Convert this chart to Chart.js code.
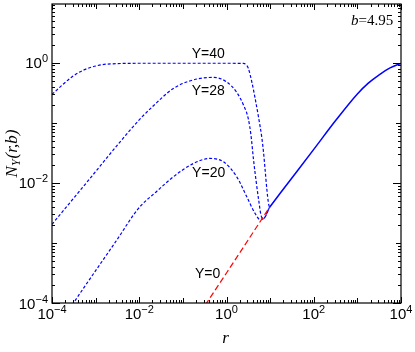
<!DOCTYPE html>
<html>
<head>
<meta charset="utf-8">
<title>N_Y(r,b)</title>
<script src="https://cdn.jsdelivr.net/npm/chart.js@4.4.0/dist/chart.umd.min.js"></script>
<style>
  body { margin: 0; background: #fff; }
  #wrap { width: 415px; height: 352px; }
</style>
</head>
<body>
<div id="wrap"><canvas id="myChart" width="415" height="352"></canvas></div>

<script type="text/javascript">
// values (b = 4.95)
var r40 = [1e-4, 2.9e-4, 5.8e-4, 1.4e-3, 2.5e-3, 1e-2, 1e-1, 1, 2.45, 2.8, 3.16, 3.8, 4.53, 5.4, 6.46, 7.08, 7.67, 8.4, 9.12, 9.64];
var n40 = [0.297, 0.585, 0.776, 0.927, 0.96, 0.98, 0.98, 0.98, 0.975, 0.93, 0.807, 0.482, 0.255, 0.126, 0.0562, 0.0316, 0.0166, 0.0079, 0.0047, 0.0039];

var r28 = [1e-4, 6.9e-4, 3.4e-3, 1e-2, 2e-2, 6.3e-2, 0.25, 0.5, 1.0, 1.74, 2.51, 3.16, 3.63, 4.17, 4.79, 5.5, 6.17, 6.9, 7.7, 8.6, 9.64];
var n28 = [2.04e-3, 0.0111, 0.0454, 0.112, 0.185, 0.38, 0.55, 0.569, 0.482, 0.316, 0.19, 0.117, 0.063, 0.024, 0.0105, 0.005, 0.0029, 0.00251, 0.00271, 0.00324, 0.00389];

var r20 = [2.5e-4, 3.1e-4, 3.04e-3, 9.5e-3, 0.025, 0.0605, 0.174, 0.42, 0.85, 1.72, 2.92, 4.53, 5.9, 7.67, 9.64];
var n20 = [7.9e-5, 1e-4, 1.11e-3, 3.72e-3, 7.2e-3, 0.0126, 0.021, 0.0255, 0.0224, 0.0126, 5.85e-3, 3.09e-3, 2.45e-3, 2.71e-3, 3.89e-3];

var r0 = [0.25, 1, 9.64];
var n0 = [6.9e-5, 3.16e-4, 3.89e-3];

// common large-r part (solid)
var rBig = [9.64, 17, 100, 324, 1000, 1780, 3160, 5620, 1e4];
var nBig = [3.89e-3, 6.7e-3, 0.0361, 0.111, 0.302, 0.457, 0.63, 0.822, 0.977];

// curve labels: text, r, N (baseline centre)
var labelText = ['Y=40', 'Y=28', 'Y=20', 'Y=0'];
var labelR = [0.38, 0.38, 0.39, 0.37];
var labelN = [1.2, 0.29, 0.01245, 2.58e-4];

var xDecades = [-4, -3, -2, -1, 0, 1, 2, 3, 4];
var xLabeled = [-4, -2, 0, 2, 4];
var yDecades = [-4, -3, -2, -1, 0];
var yLabeled = [-4, -2, 0];

function pts(rs, ns) {
    var out = [];
    for (var i = 0; i < rs.length; i++) out.push({x: rs[i], y: ns[i]});
    return out;
}

function drawPow(ctx, x, y, exp, align) {
    var base = '10', sup = exp < 0 ? '\u2212' + (-exp) : '' + exp;
    ctx.font = '15px "Liberation Sans", Arial, sans-serif';
    var wb = ctx.measureText(base).width;
    ctx.font = '11px "Liberation Sans", Arial, sans-serif';
    var ws = ctx.measureText(sup).width;
    var x0 = align === 'right' ? x - wb - ws : x - (wb + ws) / 2;
    ctx.textAlign = 'left';
    ctx.textBaseline = 'alphabetic';
    ctx.font = '15px "Liberation Sans", Arial, sans-serif';
    ctx.fillText(base, x0, y);
    ctx.font = '11px "Liberation Sans", Arial, sans-serif';
    ctx.fillText(sup, x0 + wb, y - 6);
}

var frame = {
    id: 'frame',
    afterDatasetsDraw: function(chart) {
        var ctx = chart.ctx, a = chart.chartArea;
        var xs = chart.scales.x, ys = chart.scales.y;
        ctx.save();
        ctx.strokeStyle = '#000';
        ctx.fillStyle = '#000';
        ctx.lineWidth = 1.2;
        ctx.strokeRect(a.left, a.top, a.right - a.left, a.bottom - a.top);

        ctx.lineWidth = 1;
        ctx.beginPath();
        xDecades.forEach(function(d) {
            for (var m = 1; m <= 9; m++) {
                var v = m * Math.pow(10, d);
                if (v < xs.min * 0.999 || v > xs.max * 1.001) continue;
                var len = m > 1 ? 3 : (xLabeled.indexOf(d) >= 0 ? 6 : 5);
                var px = Math.round(xs.getPixelForValue(v)) + 0.5;
                ctx.moveTo(px, a.bottom); ctx.lineTo(px, a.bottom - len);
                ctx.moveTo(px, a.top); ctx.lineTo(px, a.top + len);
            }
        });
        yDecades.concat([1]).forEach(function(d) {
            for (var m = 1; m <= 9; m++) {
                var v = m * Math.pow(10, d);
                if (v < ys.min * 0.999 || v > ys.max * 1.001) continue;
                var len = m > 1 ? 3 : (yLabeled.indexOf(d) >= 0 ? 8 : 5);
                var py = Math.round(ys.getPixelForValue(v)) + 0.5;
                ctx.moveTo(a.left, py); ctx.lineTo(a.left + len, py);
                ctx.moveTo(a.right, py); ctx.lineTo(a.right - len, py);
            }
        });
        ctx.stroke();

        // tick labels
        xLabeled.forEach(function(d) {
            drawPow(ctx, xs.getPixelForValue(Math.pow(10, d)), a.bottom + 16, d, 'center');
        });
        yLabeled.forEach(function(d) {
            drawPow(ctx, a.left - 4, ys.getPixelForValue(Math.pow(10, d)) + 5.5, d, 'right');
        });

        // axis titles
        ctx.textAlign = 'center';
        ctx.font = 'italic 17px "Liberation Serif", "Times New Roman", serif';
        ctx.fillText('r', (a.left + a.right) / 2 - 1, 343);

        ctx.save();
        ctx.translate(16.5, (a.top + a.bottom) / 2);
        ctx.rotate(-Math.PI / 2);
        ctx.textAlign = 'left';
        var big = 'italic 17px "Liberation Serif", "Times New Roman", serif';
        var small = 'italic 12px "Liberation Serif", "Times New Roman", serif';
        ctx.font = big; var w1 = ctx.measureText('N').width;
        ctx.font = small; var w2 = ctx.measureText('Y').width;
        ctx.font = big; var w3 = ctx.measureText('(r,b)').width;
        var sx = -(w1 + w2 + 1 + w3) / 2;
        ctx.font = big; ctx.fillText('N', sx, 0);
        ctx.font = small; ctx.fillText('Y', sx + w1, 3);
        ctx.font = big; ctx.fillText('(r,b)', sx + w1 + w2 + 1, 0);
        ctx.restore();

        // curve labels
        ctx.font = '14px "Liberation Sans", Arial, sans-serif';
        ctx.textAlign = 'center';
        for (var i = 0; i < labelText.length; i++) {
            ctx.fillText(labelText[i], xs.getPixelForValue(labelR[i]), ys.getPixelForValue(labelN[i]));
        }

        // b=4.95
        var bx = xs.getPixelForValue(6620), by = ys.getPixelForValue(4.25);
        ctx.font = '15px "Liberation Serif", "Times New Roman", serif';
        ctx.textAlign = 'left';
        var wv = ctx.measureText('=4.95').width;
        ctx.font = 'italic 15px "Liberation Serif", "Times New Roman", serif';
        var wbb = ctx.measureText('b').width;
        ctx.fillText('b', bx - wv - wbb, by);
        ctx.font = '15px "Liberation Serif", "Times New Roman", serif';
        ctx.fillText('=4.95', bx - wv, by);
        ctx.restore();
    }
};

var config = {
    type: 'scatter',
    data: {
        datasets: [
            { label: 'large r', data: pts(rBig, nBig), showLine: true, borderColor: '#0000ff', borderWidth: 1.5, cubicInterpolationMode: 'monotone' },
            { label: 'Y=0', data: pts(r0, n0), showLine: true, borderColor: '#ff0000', borderWidth: 1.2, borderDash: [6, 3] },
            { label: 'Y=20', data: pts(r20, n20), showLine: true, borderColor: '#0000ff', borderWidth: 1.2, borderDash: [3, 2], cubicInterpolationMode: 'monotone' },
            { label: 'Y=28', data: pts(r28, n28), showLine: true, borderColor: '#0000ff', borderWidth: 1.2, borderDash: [3, 2], cubicInterpolationMode: 'monotone' },
            { label: 'Y=40', data: pts(r40, n40), showLine: true, borderColor: '#0000ff', borderWidth: 1.2, borderDash: [3, 2], cubicInterpolationMode: 'monotone' }
        ]
    },
    options: {
        responsive: false,
        animation: false,
        layout: { padding: { left: 52, top: 4, right: 14, bottom: 49 } },
        elements: { point: { radius: 0, hoverRadius: 0 } },
        plugins: { legend: { display: false }, tooltip: { enabled: false } },
        scales: {
            x: { type: 'logarithmic', min: 1e-4, max: 1e4, display: false },
            y: { type: 'logarithmic', min: 1e-4, max: 9.5, display: false }
        }
    },
    plugins: [frame]
};

var chart = new Chart(document.getElementById('myChart'), config);
</script>
</body>
</html>
